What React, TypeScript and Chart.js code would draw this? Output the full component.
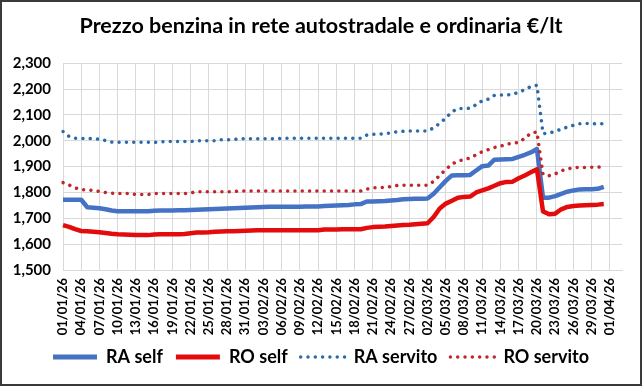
import React, { useEffect, useRef } from "react";
import { Chart, registerables } from "chart.js";

Chart.register(...registerables);

const TITLE = "Prezzo benzina in rete autostradale e ordinaria €/lt";

const dates: string[] = [
  "01/01/26","02/01/26","03/01/26","04/01/26","05/01/26","06/01/26","07/01/26","08/01/26","09/01/26","10/01/26",
  "11/01/26","12/01/26","13/01/26","14/01/26","15/01/26","16/01/26","17/01/26","18/01/26","19/01/26","20/01/26",
  "21/01/26","22/01/26","23/01/26","24/01/26","25/01/26","26/01/26","27/01/26","28/01/26","29/01/26","30/01/26",
  "31/01/26","01/02/26","02/02/26","03/02/26","04/02/26","05/02/26","06/02/26","07/02/26","08/02/26","09/02/26",
  "10/02/26","11/02/26","12/02/26","13/02/26","14/02/26","15/02/26","16/02/26","17/02/26","18/02/26","19/02/26",
  "20/02/26","21/02/26","22/02/26","23/02/26","24/02/26","25/02/26","26/02/26","27/02/26","28/02/26","01/03/26",
  "02/03/26","03/03/26","04/03/26","05/03/26","06/03/26","07/03/26","08/03/26","09/03/26","10/03/26","11/03/26",
  "12/03/26","13/03/26","14/03/26","15/03/26","16/03/26","17/03/26","18/03/26","19/03/26","20/03/26","21/03/26",
  "22/03/26","23/03/26","24/03/26","25/03/26","26/03/26","27/03/26","28/03/26","29/03/26","30/03/26","31/03/26",
  "01/04/26","02/04/26","03/04/26",
];

const raSelf: number[] = [
  1.772,1.772,1.772,1.772,1.743,1.741,1.739,1.735,1.730,1.727,
  1.727,1.727,1.727,1.727,1.727,1.729,1.730,1.730,1.730,1.731,
  1.731,1.732,1.733,1.734,1.735,1.736,1.737,1.738,1.739,1.740,
  1.741,1.742,1.743,1.744,1.745,1.745,1.745,1.745,1.745,1.745,
  1.746,1.746,1.746,1.748,1.749,1.750,1.751,1.752,1.754,1.755,
  1.765,1.765,1.766,1.767,1.769,1.771,1.774,1.775,1.776,1.776,
  1.777,1.795,1.820,1.845,1.866,1.867,1.867,1.868,1.885,1.902,
  1.904,1.927,1.928,1.929,1.930,1.938,1.946,1.955,1.968,1.780,
  1.780,1.786,1.795,1.803,1.808,1.812,1.813,1.813,1.814,1.822,
];

const roSelf: number[] = [
  1.674,1.667,1.658,1.651,1.650,1.648,1.646,1.643,1.640,1.638,
  1.637,1.636,1.635,1.635,1.635,1.637,1.638,1.638,1.638,1.638,
  1.639,1.642,1.645,1.645,1.646,1.648,1.649,1.650,1.650,1.651,
  1.652,1.653,1.654,1.654,1.654,1.654,1.654,1.654,1.654,1.654,
  1.654,1.654,1.654,1.657,1.657,1.657,1.658,1.658,1.658,1.658,
  1.663,1.666,1.667,1.668,1.670,1.672,1.674,1.675,1.677,1.679,
  1.681,1.705,1.738,1.757,1.768,1.780,1.783,1.784,1.800,1.808,
  1.816,1.826,1.836,1.841,1.842,1.855,1.866,1.878,1.890,1.727,
  1.716,1.718,1.735,1.744,1.748,1.750,1.751,1.752,1.753,1.755,
];

const raServito: number[] = [
  2.036,2.017,2.010,2.009,2.009,2.008,2.006,2.001,1.995,1.994,
  1.994,1.994,1.994,1.994,1.994,1.994,1.996,1.997,1.997,1.997,
  1.997,1.997,2.000,2.000,2.000,2.000,2.004,2.004,2.004,2.008,
  2.008,2.008,2.008,2.008,2.008,2.008,2.010,2.010,2.010,2.010,
  2.010,2.010,2.010,2.010,2.010,2.010,2.010,2.010,2.010,2.010,
  2.022,2.025,2.026,2.028,2.031,2.035,2.037,2.038,2.038,2.038,
  2.038,2.050,2.068,2.088,2.112,2.125,2.125,2.126,2.140,2.155,
  2.161,2.176,2.177,2.177,2.180,2.188,2.198,2.210,2.215,2.028,
  2.030,2.037,2.045,2.053,2.060,2.066,2.067,2.067,2.065,2.067,
];

const roServito: number[] = [
  1.838,1.829,1.818,1.811,1.810,1.808,1.804,1.800,1.797,1.796,
  1.796,1.796,1.792,1.792,1.792,1.796,1.796,1.796,1.796,1.796,
  1.796,1.798,1.803,1.803,1.803,1.803,1.803,1.803,1.803,1.806,
  1.806,1.806,1.806,1.806,1.806,1.806,1.806,1.806,1.806,1.806,
  1.806,1.806,1.806,1.806,1.806,1.806,1.806,1.806,1.806,1.806,
  1.813,1.818,1.819,1.820,1.823,1.827,1.828,1.828,1.828,1.828,
  1.828,1.843,1.866,1.889,1.910,1.921,1.928,1.933,1.946,1.958,
  1.966,1.974,1.979,1.987,1.990,1.994,2.010,2.030,2.034,1.870,
  1.865,1.872,1.884,1.891,1.896,1.897,1.897,1.898,1.898,1.899,
];

const seriesNames = ["RA self", "RO self", "RA servito", "RO servito"];
const yMin = 1.5;
const yMax = 2.3;
const yStep = 0.1;

const FONT = "Lato, 'DejaVu Sans', sans-serif";

export default function App() {
  const canvasRef = useRef<HTMLCanvasElement | null>(null);

  useEffect(() => {
    document.body.style.margin = "0";
    const canvas = canvasRef.current;
    if (!canvas) return;
    const dotted = [0.01, 7.3];
    const chart = new Chart(canvas, {
      type: "line",
      data: {
        labels: dates,
        datasets: [
          {
            label: seriesNames[0],
            data: raSelf,
            borderColor: "#4472C4",
            backgroundColor: "#4472C4",
            borderWidth: 4.5,
            pointRadius: 0,
            borderJoinStyle: "round",
            order: 4,
          },
          {
            label: seriesNames[1],
            data: roSelf,
            borderColor: "#E30B0B",
            backgroundColor: "#E30B0B",
            borderWidth: 4.5,
            pointRadius: 0,
            borderJoinStyle: "round",
            order: 3,
          },
          {
            label: seriesNames[2],
            data: raServito,
            borderColor: "#2A6BA8",
            backgroundColor: "#2A6BA8",
            borderWidth: 3.5,
            borderDash: dotted,
            borderCapStyle: "round",
            pointRadius: 0,
            order: 2,
          },
          {
            label: seriesNames[3],
            data: roServito,
            borderColor: "#C0262C",
            backgroundColor: "#C0262C",
            borderWidth: 3.5,
            borderDash: dotted,
            borderCapStyle: "round",
            pointRadius: 0,
            order: 1,
          },
        ],
      },
      options: {
        animation: false,
        responsive: true,
        maintainAspectRatio: false,
        layout: { padding: { left: 0, right: 2, top: 5, bottom: 14 } },
        plugins: {
          title: {
            display: true,
            text: TITLE,
            color: "#000",
            font: { family: FONT, size: 21.5, weight: "bold" },
            padding: { top: 8, bottom: 24.5 },
          },
          legend: {
            position: "bottom",
            labels: {
              usePointStyle: true,
              pointStyle: "line",
              pointStyleWidth: 44,
              color: "#000",
              font: { family: FONT, size: 18, weight: "bold" },
              padding: 13,
              sort: (a: any, b: any) => a.datasetIndex - b.datasetIndex,
              generateLabels: (ch: any) => {
                const items = Chart.defaults.plugins.legend.labels.generateLabels(ch);
                items.forEach((it: any) => {
                  const ds: any = ch.data.datasets[it.datasetIndex];
                  it.lineDash = ds.borderDash || [];
                  it.lineCap = ds.borderCapStyle || "butt";
                  it.lineWidth = ds.borderDash ? 3.5 : 5;
                  it.strokeStyle = ds.borderColor;
                });
                return items;
              },
            },
          },
          tooltip: { enabled: false },
        },
        scales: {
          x: {
            type: "category",
            offset: false,
            afterFit: (scale: any) => {
              scale.height = 65;
            },
            grid: { color: "#D9D9D9", drawTicks: false, lineWidth: 1 },
            border: { color: "#D9D9D9" },
            ticks: {
              autoSkip: false,
              maxRotation: 90,
              minRotation: 90,
              padding: 8,
              color: "#000",
              font: { family: FONT, size: 13, weight: "bold" },
              callback: function (this: any, _v: any, i: number) {
                return i % 3 === 0 ? dates[i] : null;
              },
            },
          },
          y: {
            min: yMin,
            max: yMax,
            grid: { color: "#D9D9D9", drawTicks: false },
            border: { display: false },
            afterFit: (scale: any) => {
              scale.width = 63;
            },
            ticks: {
              stepSize: yStep,
              padding: 12,
              color: "#000",
              font: { family: FONT, size: 15, weight: "bold" },
              callback: (v: any) => Number(v).toFixed(3).replace(".", ","),
            },
          },
          spacer: {
            type: "linear",
            position: "right",
            display: true,
            grid: { display: false, drawTicks: false },
            border: { display: false },
            ticks: { display: false },
            afterFit: (scale: any) => {
              scale.width = 20;
            },
          },
        },
      },
    });
    return () => chart.destroy();
  }, []);

  return (
    <div style={{ position: "relative", width: 644, height: 390, background: "#fff" }}>
      <div style={{ position: "absolute", left: 0, top: 0, width: 644, height: 390 }}>
        <canvas ref={canvasRef} />
      </div>
      <div
        style={{
          position: "absolute",
          left: 0,
          top: 0,
          width: 642,
          height: 386,
          boxSizing: "border-box",
          border: "2px solid #3a3a3a",
          pointerEvents: "none",
        }}
      />
    </div>
  );
}
